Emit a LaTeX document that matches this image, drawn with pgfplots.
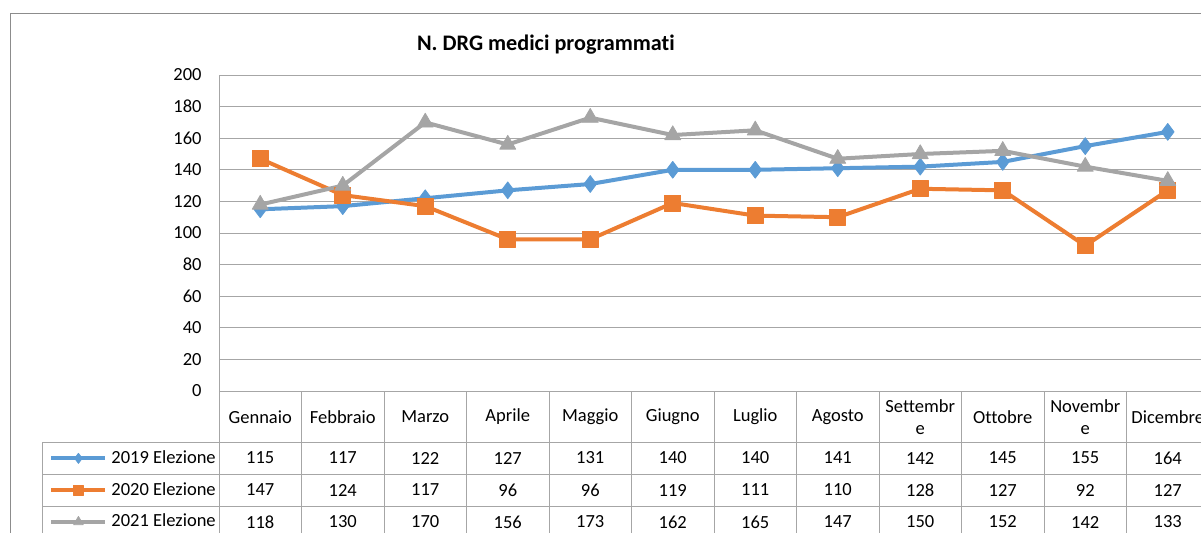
\documentclass[border=0pt]{standalone}
\usepackage{fontspec}
\setmainfont{Carlito}[Ligatures=NoCommon]
\usepackage{pgfplots}
\usepackage{pgfplotstable}
\pgfplotsset{compat=1.18}

\definecolor{c19}{HTML}{5B9BD5}
\definecolor{c20}{HTML}{ED7D31}
\definecolor{c21}{HTML}{A5A5A5}
\definecolor{gridc}{HTML}{A6A6A6}
\definecolor{framec}{HTML}{8C8C8C}

\newcommand\fs{\fontsize{9.25pt}{11pt}\selectfont}

% x = category centre, a/b/c = 2019/2020/2021 Elezione
\pgfplotstableread{
x    a   b   c
0.5  115 147 118
1.5  117 124 130
2.5  122 117 170
3.5  127 96  156
4.5  131 96  173
5.5  140 119 162
6.5  140 111 165
7.5  141 110 147
8.5  142 128 150
9.5  145 127 152
10.5 155 92  142
11.5 164 127 133
}\drg

\begin{document}
\begin{tikzpicture}
\useasboundingbox (0,0) rectangle (600.5pt,266pt);
\clip (0,0) rectangle (600.5pt,266pt);

\begin{axis}[
    at={(109.5pt,70.5pt)}, anchor=south west,
    scale only axis, width=495pt, height=158pt,
    xmin=0, xmax=12, ymin=0, ymax=200,
    ytick={0,20,...,200},
    xtick={0.5,1.5,...,11.5},
    xticklabels={Gennaio,Febbraio,Marzo,Aprile,Maggio,Giugno,Luglio,Agosto,{Settembr\\e},Ottobre,{Novembr\\e},Dicembre},
    xticklabel style={align=center, anchor=center, yshift=-13pt, font=\fs},
    yticklabel style={anchor=east, inner sep=0pt, xshift=-8.5pt, font=\fs},
    /pgf/number format/assume math mode=true,
    major tick length=0pt,
    axis line style={draw=none},
    ymajorgrids, grid style={gridc, line width=0.5pt},
    clip=false,
    legend cell align=left,
    legend style={at={(axis cs:-2.06,-32.3)}, anchor=north west, draw=none, fill=none,
        inner sep=0pt, row sep=0pt, column sep=2pt, font=\fs,
        nodes={anchor=west, inner sep=0pt, minimum height=15.9pt}},
    legend image code/.code={
        \draw[mark repeat=2, mark phase=2, every mark/.append style={scale=0.6}]
            plot coordinates {(0pt,0pt) (13.5pt,0pt) (27pt,0pt)};
    },
]
\addplot[c19, line width=2pt, line join=round, mark=diamond*, mark size=4.2pt,
    mark options={line width=0.4pt}] table[x=x, y=a]{\drg};
\addlegendentry{2019 Elezione}
\addplot[c20, line width=2pt, line join=round, mark=square*, mark size=4pt,
    mark options={line width=0.4pt}] table[x=x, y=b]{\drg};
\addlegendentry{2020 Elezione}
\addplot[c21, line width=2pt, line join=round, mark=triangle*, mark size=4.6pt,
    mark options={line width=0.4pt}] table[x=x, y=c]{\drg};
\addlegendentry{2021 Elezione}
\end{axis}

% data table grid, values and title (1 unit = 1 px of the reference)
\begin{scope}[x=0.5pt, y=-0.5pt, yshift=266pt]
  \draw[framec, line width=0.5pt] (10,545) -- (10,13) -- (1215,13);
  \draw[gridc, line width=0.5pt] (219,75) -- (219,545);
  \foreach \k in {1,...,11}
    \draw[gridc, line width=0.5pt] ({219+82.5*\k},391) -- ({219+82.5*\k},545);
  \draw[gridc, line width=0.5pt] (42,545) -- (42,442) -- (1215,442);
  \draw[gridc, line width=0.5pt] (42,474) -- (1215,474);
  \draw[gridc, line width=0.5pt] (42,506) -- (1215,506);
  \foreach \r in {0,...,11}{
    \foreach \col/\yy in {a/458,b/490,c/522}{
      \pgfplotstablegetelem{\r}{\col}\of\drg
      \node[font=\fs, inner sep=0pt] at ({260.25+82.5*\r},\yy) {\pgfplotsretval};
    }
  }
  \node[font=\fontsize{11.1pt}{13pt}\selectfont\bfseries] at (546,45) {N. DRG medici programmati};
\end{scope}
\end{tikzpicture}
\end{document}
